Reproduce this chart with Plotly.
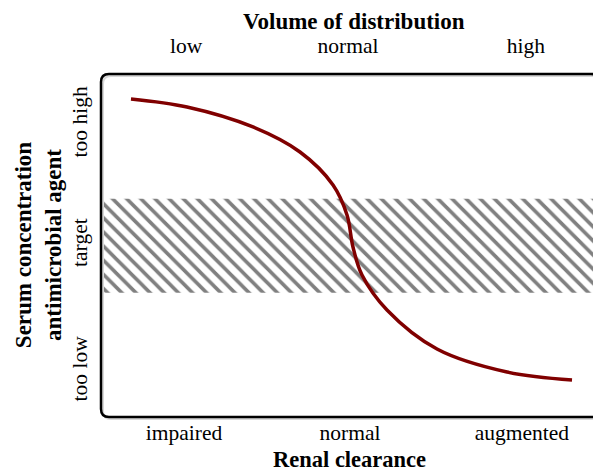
import plotly.graph_objects as go

# --- data (axes 0..100 arbitrary units) ---
curve_x = [6.02, 17.27, 30.52, 39.96, 46.59, 49.40, 50.60, 52.41, 57.43, 67.47, 81.53, 94.58]
curve_y = [92.71, 90.38, 84.55, 77.26, 67.64, 58.89, 49.56, 41.40, 31.20, 19.83, 13.12, 10.79]

target_x = [0.6, 99.0, 99.0, 0.6, 0.6]
target_y = [36.2, 36.2, 63.6, 63.6, 36.2]

bottom_ticks = [16.67, 50.0, 84.5]
bottom_labels = ["impaired", "normal", "augmented"]
top_ticks = [17.1, 49.6, 85.3]
top_labels = ["low", "normal", "high"]
left_ticks = [85.1, 49.9, 13.1]
left_labels = ["too high", "target", "too low"]

title_top = "Volume of distribution"
title_bottom = "Renal clearance"
title_left = "Serum concentration<br>antimicrobial agent"

FONT = "Liberation Serif"

fig = go.Figure()

fig.add_trace(go.Scatter(
    x=target_x, y=target_y,
    mode="lines", fill="toself", fillcolor="white",
    line=dict(width=0, color="rgba(0,0,0,0)"),
    fillpattern=dict(shape="\\", size=10, solidity=0.36, fgopacity=1,
                     fgcolor="#808080", bgcolor="white", fillmode="replace"),
    hoverinfo="skip", showlegend=False,
))

fig.add_trace(go.Scatter(
    x=curve_x, y=curve_y, mode="lines",
    line=dict(color="#800000", width=3.5, shape="spline", smoothing=1.0),
    showlegend=False,
))

# invisible anchor for the top axis
fig.add_trace(go.Scatter(
    x=[top_ticks[1]], y=[left_ticks[1]], xaxis="x2", mode="markers",
    marker=dict(opacity=0), hoverinfo="skip", showlegend=False,
))

# rounded box in paper coordinates
rx, ry = 8 / 498, 8 / 343


def rounded(x0, y0, x1, y1):
    return (f"M {x0+rx},{y0} L {x1-rx},{y0} Q {x1},{y0} {x1},{y0+ry} "
            f"L {x1},{y1-ry} Q {x1},{y1} {x1-rx},{y1} L {x0+rx},{y1} "
            f"Q {x0},{y1} {x0},{y1-ry} L {x0},{y0+ry} Q {x0},{y0} {x0+rx},{y0} Z")


dx, dy = 2 / 498, 2 / 343
shapes = [
    dict(type="path", xref="paper", yref="paper", path=rounded(dx, -dy, 1 + dx, 1 - dy),
         line=dict(color="#d8d8d8", width=2), layer="below"),
    dict(type="path", xref="paper", yref="paper", path=rounded(0, 0, 1, 1),
         line=dict(color="black", width=2.5), layer="above"),
]

axis_common = dict(range=[0, 100], showgrid=False, zeroline=False, showline=False,
                   ticks="", tickfont=dict(family=FONT, size=21.5, color="black"),
                   fixedrange=True)

# page body has an 8px margin, so the figure is 8px smaller than the window
fig.update_layout(
    width=593, height=464,
    margin=dict(l=93, r=2, t=66, b=55, autoexpand=False),
    paper_bgcolor="white", plot_bgcolor="white",
    shapes=shapes,
    xaxis=dict(**axis_common, tickvals=bottom_ticks, ticktext=bottom_labels,
               ticklabelstandoff=0),
    xaxis2=dict(**axis_common, tickvals=top_ticks, ticktext=top_labels,
                overlaying="x", side="top", matches="x", ticklabelstandoff=16),
    yaxis=dict(**axis_common, tickvals=left_ticks, ticktext=left_labels,
               tickangle=-90, ticklabelstandoff=9),
    annotations=[
        dict(text=f"<b>{title_top}</b>", xref="paper", yref="paper", x=0.508, y=1.1545,
             xanchor="center", yanchor="middle", showarrow=False,
             font=dict(family=FONT, size=23, color="black")),
        dict(text=f"<b>{title_bottom}</b>", xref="paper", yref="paper", x=0.498, y=-0.125,
             xanchor="center", yanchor="middle", showarrow=False,
             font=dict(family=FONT, size=22.5, color="black")),
        dict(text=f"<b>{title_left}</b>", xref="paper", yref="paper", x=-0.1265, y=0.501,
             xanchor="center", yanchor="middle", showarrow=False, textangle=-90,
             font=dict(family=FONT, size=23, color="black")),
    ],
)

fig.write_html("out.html")
